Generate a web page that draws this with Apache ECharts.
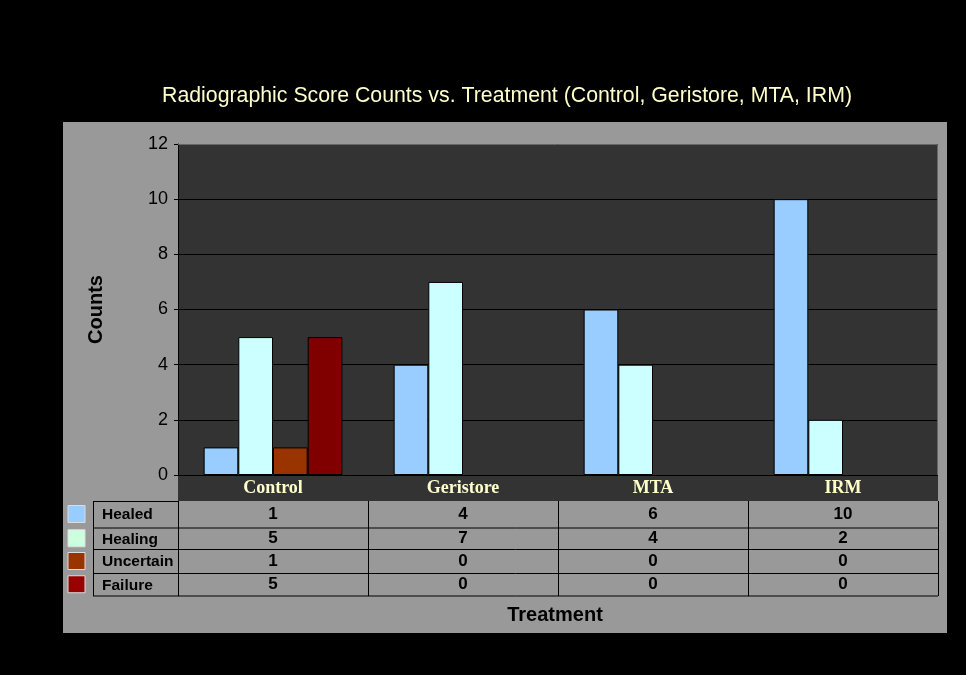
<!DOCTYPE html>
<html><head><meta charset="utf-8">
<script src="https://cdn.jsdelivr.net/npm/echarts@6/dist/echarts.min.js"></script>
<style>html,body{margin:0;padding:0;background:#000;}#c{width:966px;height:675px;}</style>
</head><body><div id="c"></div>
<script>
const categories = ['Control', 'Geristore', 'MTA', 'IRM'];
const seriesNames = ['Healed', 'Healing', 'Uncertain', 'Failure'];
const healed = [1, 4, 6, 10];
const healing = [5, 7, 4, 2];
const uncertain = [1, 0, 0, 0];
const failure = [5, 0, 0, 0];
const yTickValues = [0, 2, 4, 6, 8, 10, 12];

const seriesValues = [healed, healing, uncertain, failure];
const barColors = ['#99CCFF', '#CCFFFF', '#993300', '#800000'];
const keyColors = ['#99CCFF', '#CCFFDD', '#993300', '#990000'];

const G = { left: 178, top: 144, width: 760, height: 331 };
const bandBottom = 501;
const rowLines = [501, 528, 549.5, 573.5, 596];

const chart = echarts.init(document.getElementById('c'));
chart.setOption({
  backgroundColor: '#000000',
  animation: false,
  title: {
    text: 'Radiographic Score Counts vs. Treatment (Control, Geristore, MTA, IRM)',
    left: 157, top: 81,
    textStyle: { color: '#FFFFCC', fontFamily: 'Liberation Sans', fontWeight: 'normal', fontSize: 21.3 }
  },
  grid: { left: G.left, top: G.top, width: G.width, height: G.height, show: false },
  xAxis: {
    type: 'category', data: categories,
    axisLine: { show: false }, axisTick: { show: false },
    axisLabel: { color: '#FFFFCC', fontFamily: 'Liberation Serif', fontWeight: 'bold', fontSize: 18, margin: 4 }
  },
  yAxis: {
    type: 'value', min: yTickValues[0], max: yTickValues[yTickValues.length - 1], interval: 2,
    name: 'Counts', nameLocation: 'middle', nameGap: 72, nameRotate: 90,
    nameTextStyle: { color: '#000', fontFamily: 'Liberation Sans', fontWeight: 'bold', fontSize: 20 },
    axisLine: { show: true, lineStyle: { color: '#000', width: 1 } },
    axisTick: { show: true, length: 4, lineStyle: { color: '#000' } },
    axisLabel: { color: '#000', fontFamily: 'Liberation Sans', fontSize: 18, margin: 10 },
    splitLine: { show: true, lineStyle: { color: '#000', width: 1 } }
  },
  series: seriesNames.map((n, i) => ({
    name: n, type: 'bar',
    data: seriesValues[i].map(v => v === 0 ? null : v),
    barGap: '0%', barCategoryGap: '27%',
    itemStyle: { color: barColors[i], borderColor: '#000', borderWidth: 1 }
  }))
});

const g = [];
g.push({ type: 'rect', z: -10, shape: { x: 63, y: 122, width: 884, height: 511 }, style: { fill: '#999999' } });
g.push({ type: 'rect', z: -5, shape: { x: G.left, y: G.top, width: G.width, height: bandBottom - G.top }, style: { fill: '#333333' } });
g.push({ type: 'polyline', z: 10, shape: { points: [[G.left, G.top + 0.5], [G.left + G.width - 0.5, G.top + 0.5], [G.left + G.width - 0.5, G.top + G.height]] }, style: { stroke: '#666666', lineWidth: 1, fill: null } });

const tableLeft = 93;
const tableRight = G.left + G.width;
g.push({ type: 'line', z: 5, shape: { x1: tableLeft, y1: rowLines[0] + 0.5, x2: G.left, y2: rowLines[0] + 0.5 }, style: { stroke: '#000', lineWidth: 1 } });
for (let r = 1; r < rowLines.length; r++) {
  g.push({ type: 'line', z: 5, shape: { x1: tableLeft, y1: rowLines[r], x2: tableRight, y2: rowLines[r] }, style: { stroke: '#000', lineWidth: 1 } });
}
const colEdges = [tableLeft, G.left];
categories.forEach((c, i) => colEdges.push(G.left + (i + 1) * G.width / categories.length));
colEdges.forEach(x => {
  g.push({ type: 'line', z: 5, shape: { x1: Math.round(x) + 0.5, y1: rowLines[0], x2: Math.round(x) + 0.5, y2: rowLines[rowLines.length - 1] }, style: { stroke: '#000', lineWidth: 1 } });
});

seriesNames.forEach((n, r) => {
  const cy = (rowLines[r] + rowLines[r + 1]) / 2 - 0.5;
  g.push({ type: 'rect', z: 5, shape: { x: 68, y: cy - 8.5, width: 17, height: 17 }, style: { fill: keyColors[r], stroke: '#dddddd', lineWidth: 1 } });
  g.push({ type: 'text', z: 6, style: { text: n, x: 102, y: cy + 1, textAlign: 'left', textVerticalAlign: 'middle', fill: '#000', font: 'bold 15.5px "Liberation Sans"' } });
  categories.forEach((c, i) => {
    const cx = chart.convertToPixel({ xAxisIndex: 0 }, c);
    g.push({ type: 'text', z: 6, style: { text: String(seriesValues[r][i]), x: cx, y: cy, textAlign: 'center', textVerticalAlign: 'middle', fill: '#000', font: 'bold 17px "Liberation Sans"' } });
  });
});

g.push({ type: 'text', z: 6, style: { text: 'Treatment', x: 555, y: 615, textAlign: 'center', textVerticalAlign: 'middle', fill: '#000', font: 'bold 20px "Liberation Sans"' } });

chart.setOption({ graphic: g });
</script>
</body></html>
